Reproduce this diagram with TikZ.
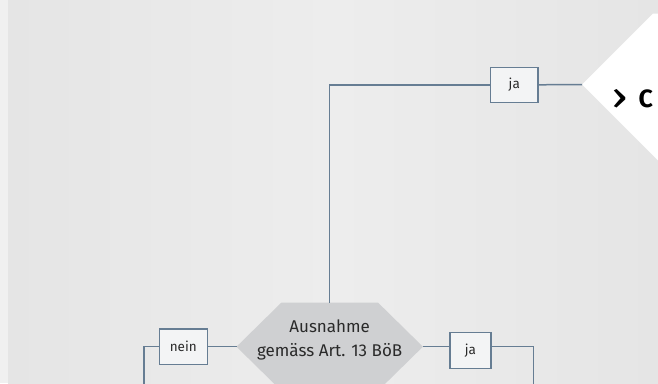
\documentclass[tikz,border=0pt]{standalone}
\usepackage{fontspec}
\setmainfont{Fira Sans}
\usetikzlibrary{calc}
\definecolor{linec}{HTML}{667D93}
\definecolor{boxfill}{HTML}{F3F4F5}
\definecolor{hexfill}{HTML}{CFD0D2}
\definecolor{bgc}{HTML}{E5E5E5}
\definecolor{bgmid}{HTML}{EDEDED}
\definecolor{stripc}{HTML}{F0F0F0}
\definecolor{txt}{HTML}{2A2A2A}
\tikzset{
  conn/.style={draw=linec, line width=1.5pt},
  answer/.style={draw=linec, line width=1.5pt, fill=boxfill, inner sep=0pt,
    text=txt, font=\fontsize{13.5}{15}\selectfont},
}
\begin{document}
\begin{tikzpicture}[x=1pt,y=-1pt]
\useasboundingbox (0,0) rectangle (658,383);
% background
\fill[bgc] (0,0) rectangle (658,383);
\shade[left color=bgc, right color=bgc, middle color=bgmid] (8,0) rectangle (658,383);
\fill[stripc] (0,0) rectangle (8,383);
% white target shape
\fill[white] (582,84.5) -- (653,13.5) -- (658,13.5) -- (658,160.5) -- cycle;
\node[anchor=base west, text=black, font=\fontsize{25}{28}\selectfont, inner sep=0pt] (target) at (611,107.5)
  {\rlap{\raisebox{-1.8pt}{\scalebox{2.0}[1.5]{›}}}\hspace{27.5pt}\bfseries C};
% decision hexagon
\node[minimum width=186pt, minimum height=88pt, inner sep=0pt] (hexbox) at (329.7,346.7) {};
\fill[hexfill] ($(hexbox.north west)+(45,0)$) -- ($(hexbox.north east)+(-45,0)$) -- (hexbox.east)
  -- ($(hexbox.south east)+(-45,0)$) -- ($(hexbox.south west)+(45,0)$) -- (hexbox.west) -- cycle;
\node[align=center, text=txt, font=\fontsize{17}{24}\selectfont, inner sep=0pt] (hexlabel) at (329.7,339.5) {Ausnahme\\gemäss Art. 13 BöB};
% answer boxes
\node[answer, minimum width=47.3pt, minimum height=35pt] (ja1) at (514.3,84.8) {ja};
\node[answer, minimum width=48pt, minimum height=35.3pt] (nein) at (183.3,346.7) {nein};
\node[answer, minimum width=41pt, minimum height=35.6pt] (ja2) at (470.5,350.5) {ja};
\coordinate (tip) at (582,84.5);
\coordinate (bl) at (144,386);
\coordinate (br) at (533.3,386);
% connectors
\draw[conn] (hexbox.north) |- (ja1.west);
\draw[conn] (ja1.east) -- (tip);
\draw[conn] (hexbox.west) -- (nein.east);
\draw[conn] (nein.west) -| (bl);
\draw[conn] (hexbox.east) -- (hexbox.east -| ja2.west);
\draw[conn] (ja2.east |- hexbox.east) -| (br);
\end{tikzpicture}
\end{document}
